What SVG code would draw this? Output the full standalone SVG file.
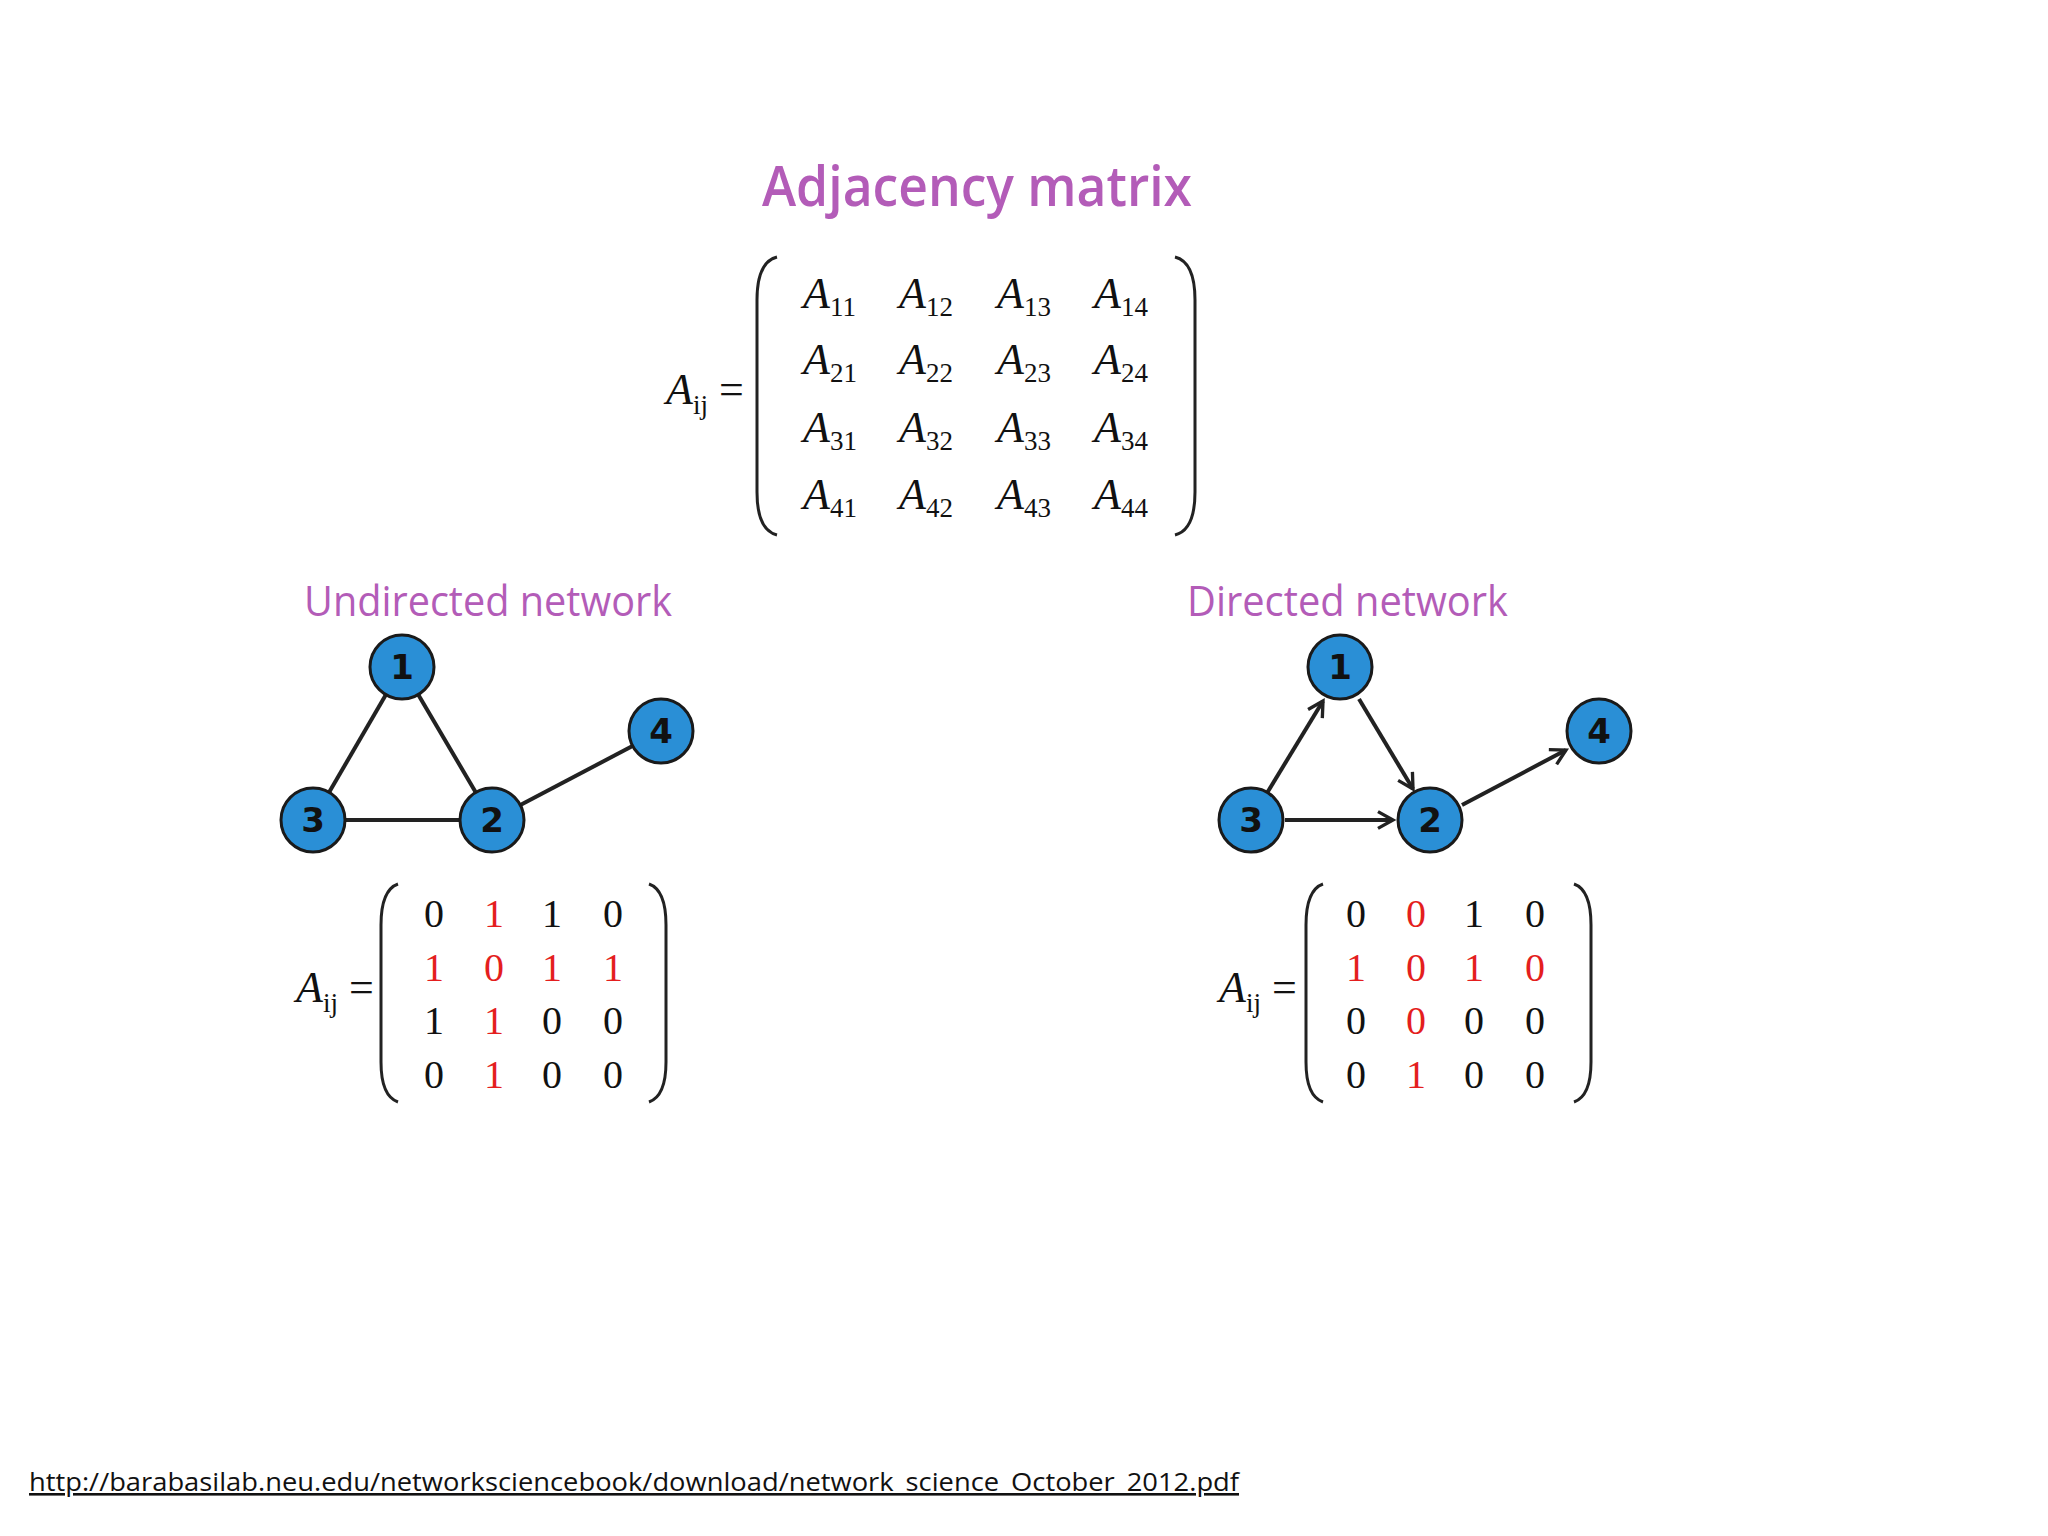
<svg xmlns="http://www.w3.org/2000/svg" width="2048" height="1536" viewBox="0 0 2048 1536">
<defs>
<style>
.t{font-family:"Open Sans","DejaVu Sans",sans-serif;fill:#b35cb8}
.m{font-family:"Liberation Serif",serif;font-style:italic;font-size:44px;fill:#111}
.s{font-size:27px;font-style:normal}
.n{font-family:"Liberation Serif",serif;font-size:40px;fill:#111;text-anchor:middle}
.r{fill:#e41e1e}
.p{fill:none;stroke:#222;stroke-width:3}
.e{stroke:#222;stroke-width:4;fill:none}
.nd circle{fill:#2a8fd6;stroke:#1a1a1a;stroke-width:3}
.nd text{font-family:"DejaVu Sans",sans-serif;font-weight:bold;font-size:34px;fill:#111;text-anchor:middle}
</style>
<marker id="ar" viewBox="0 0 12 12" refX="10" refY="6" markerWidth="5" markerHeight="5" orient="auto" markerUnits="strokeWidth"><path d="M1,1 L10,6 L1,11" fill="none" stroke="#222" stroke-width="2"/></marker>
</defs>
<rect width="2048" height="1536" fill="#fff"/>
<text class="t" x="762" y="206" font-size="56" font-weight="600" textLength="430" lengthAdjust="spacingAndGlyphs">Adjacency matrix</text>
<g id="general-matrix">
<text class="m" x="666" y="404">A<tspan class="s" dy="10">ij</tspan><tspan dy="-10" font-style="normal"> =</tspan></text>
<path class="p" d="M777,257 Q757,262 757,300 L757,492 Q757,530 777,535"/>
<path class="p" d="M1175,257 Q1195,262 1195,300 L1195,492 Q1195,530 1175,535"/>
<g>
<text class="m" x="803" y="308">A<tspan class="s" dy="8">11</tspan></text><text class="m" x="899" y="308">A<tspan class="s" dy="8">12</tspan></text><text class="m" x="997" y="308">A<tspan class="s" dy="8">13</tspan></text><text class="m" x="1094" y="308">A<tspan class="s" dy="8">14</tspan></text>
<text class="m" x="803" y="374">A<tspan class="s" dy="8">21</tspan></text><text class="m" x="899" y="374">A<tspan class="s" dy="8">22</tspan></text><text class="m" x="997" y="374">A<tspan class="s" dy="8">23</tspan></text><text class="m" x="1094" y="374">A<tspan class="s" dy="8">24</tspan></text>
<text class="m" x="803" y="442">A<tspan class="s" dy="8">31</tspan></text><text class="m" x="899" y="442">A<tspan class="s" dy="8">32</tspan></text><text class="m" x="997" y="442">A<tspan class="s" dy="8">33</tspan></text><text class="m" x="1094" y="442">A<tspan class="s" dy="8">34</tspan></text>
<text class="m" x="803" y="509">A<tspan class="s" dy="8">41</tspan></text><text class="m" x="899" y="509">A<tspan class="s" dy="8">42</tspan></text><text class="m" x="997" y="509">A<tspan class="s" dy="8">43</tspan></text><text class="m" x="1094" y="509">A<tspan class="s" dy="8">44</tspan></text>
</g>
</g>
<text class="t" x="304" y="616" font-size="42" textLength="368" lengthAdjust="spacingAndGlyphs">Undirected network</text>
<text class="t" x="1187" y="616" font-size="42" textLength="321" lengthAdjust="spacingAndGlyphs">Directed network</text>
<g id="connectors">
<line class="e" x1="402" y1="667" x2="313" y2="820"/>
<line class="e" x1="402" y1="667" x2="492" y2="820"/>
<line class="e" x1="313" y1="820" x2="492" y2="820"/>
<line class="e" x1="492" y1="820" x2="661" y2="731"/>
<line class="e" x1="1267" y1="793" x2="1323" y2="701" marker-end="url(#ar)"/>
<line class="e" x1="1359" y1="699" x2="1413" y2="789" marker-end="url(#ar)"/>
<line class="e" x1="1285" y1="820" x2="1393" y2="820" marker-end="url(#ar)"/>
<line class="e" x1="1462" y1="805" x2="1566" y2="750" marker-end="url(#ar)"/>
</g>
<g id="u1" class="nd"><circle cx="402" cy="667" r="32"/><text x="402" y="679">1</text></g>
<g id="u2" class="nd"><circle cx="492" cy="820" r="32"/><text x="492" y="832">2</text></g>
<g id="u3" class="nd"><circle cx="313" cy="820" r="32"/><text x="313" y="832">3</text></g>
<g id="u4" class="nd"><circle cx="661" cy="731" r="32"/><text x="661" y="743">4</text></g>
<g id="d1" class="nd"><circle cx="1340" cy="667" r="32"/><text x="1340" y="679">1</text></g>
<g id="d2" class="nd"><circle cx="1430" cy="820" r="32"/><text x="1430" y="832">2</text></g>
<g id="d3" class="nd"><circle cx="1251" cy="820" r="32"/><text x="1251" y="832">3</text></g>
<g id="d4" class="nd"><circle cx="1599" cy="731" r="32"/><text x="1599" y="743">4</text></g>
<g id="undirected-matrix">
<text class="m" x="296" y="1002" font-size="40">A<tspan class="s" dy="10" font-size="24">ij</tspan><tspan dy="-10" font-style="normal"> =</tspan></text>
<path class="p" d="M398,884 Q381,890 381,925 L381,1062 Q381,1096 398,1102"/>
<path class="p" d="M649,884 Q666,890 666,925 L666,1062 Q666,1096 649,1102"/>
<text class="n" x="434" y="927">0</text><text class="n r" x="494" y="927">1</text><text class="n" x="552" y="927">1</text><text class="n" x="613" y="927">0</text>
<text class="n r" x="434" y="981">1</text><text class="n r" x="494" y="981">0</text><text class="n r" x="552" y="981">1</text><text class="n r" x="613" y="981">1</text>
<text class="n" x="434" y="1034">1</text><text class="n r" x="494" y="1034">1</text><text class="n" x="552" y="1034">0</text><text class="n" x="613" y="1034">0</text>
<text class="n" x="434" y="1088">0</text><text class="n r" x="494" y="1088">1</text><text class="n" x="552" y="1088">0</text><text class="n" x="613" y="1088">0</text>
</g>
<g id="directed-matrix">
<text class="m" x="1219" y="1002" font-size="40">A<tspan class="s" dy="10" font-size="24">ij</tspan><tspan dy="-10" font-style="normal"> =</tspan></text>
<path class="p" d="M1323,884 Q1306,890 1306,925 L1306,1062 Q1306,1096 1323,1102"/>
<path class="p" d="M1574,884 Q1591,890 1591,925 L1591,1062 Q1591,1096 1574,1102"/>
<text class="n" x="1356" y="927">0</text><text class="n r" x="1416" y="927">0</text><text class="n" x="1474" y="927">1</text><text class="n" x="1535" y="927">0</text>
<text class="n r" x="1356" y="981">1</text><text class="n r" x="1416" y="981">0</text><text class="n r" x="1474" y="981">1</text><text class="n r" x="1535" y="981">0</text>
<text class="n" x="1356" y="1034">0</text><text class="n r" x="1416" y="1034">0</text><text class="n" x="1474" y="1034">0</text><text class="n" x="1535" y="1034">0</text>
<text class="n" x="1356" y="1088">0</text><text class="n r" x="1416" y="1088">1</text><text class="n" x="1474" y="1088">0</text><text class="n" x="1535" y="1088">0</text>
</g>
<text x="29" y="1491" font-family="'Open Sans','Liberation Sans',sans-serif" font-size="26" fill="#111" text-decoration="underline" textLength="1210" lengthAdjust="spacingAndGlyphs">http://barabasilab.neu.edu/networksciencebook/download/network_science_October_2012.pdf</text>
</svg>
